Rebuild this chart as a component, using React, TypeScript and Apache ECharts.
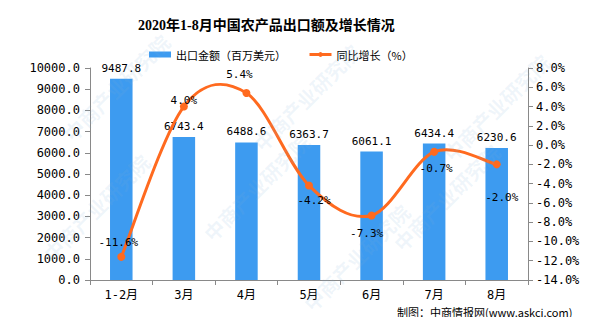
import React, { useEffect, useRef } from "react";
import * as echarts from "echarts";

const categories = ["1-2月", "3月", "4月", "5月", "6月", "7月", "8月"];
const exportValues = [9487.8, 6743.4, 6488.6, 6363.7, 6061.1, 6434.4, 6230.6];
const growthValues = [-11.6, 4.0, 5.4, -4.2, -7.3, -0.7, -2.0];

const FONT = "'DejaVu Sans Mono', 'Noto Sans CJK SC', monospace";
const ORANGE = "#FF6A1F";

export default function App() {
  const ref = useRef<HTMLDivElement>(null);
  useEffect(() => {
    const chart = echarts.init(ref.current!, null, { renderer: "svg" });
    const labelCfg: any[] = [
      { position: "top", offset: [-3, 0] },
      { position: "top", offset: [0, 8] },
      { position: "top", offset: [-7, -4] },
      { position: "bottom", offset: [5, 0] },
      { position: "bottom", offset: [-5, 4] },
      { position: "bottom", offset: [2, 2] },
      { position: "bottom", offset: [5, 19] },
    ];
    const watermarks: any[] = [];
    const wmPos = [
      [60, 130], [250, 140], [440, 150], [40, 250], [200, 230], [390, 240], [300, 300],
    ];
    wmPos.forEach(([x, y]) => {
      watermarks.push({
        type: "text",
        x,
        y,
        rotation: Math.PI / 4,
        silent: true,
        z: 100,
        style: {
          text: "中商产业研究院",
          fill: "rgba(130,175,215,0.13)",
          font: "bold 20px 'Noto Sans CJK SC'",
        },
      });
    });

    const renderCurve = (params: any, api: any) => {
      if (params.dataIndex !== 0) return null;
      const pts = growthValues.map((v, i) => api.coord([i, v]));
      let d = `M${pts[0][0]},${pts[0][1]}`;
      for (let i = 0; i < pts.length - 1; i++) {
        const p0 = pts[Math.max(0, i - 1)];
        const p1 = pts[i];
        const p2 = pts[i + 1];
        const p3 = pts[Math.min(pts.length - 1, i + 2)];
        const c1x = p1[0] + (p2[0] - p0[0]) / 6;
        const c1y = p1[1] + (p2[1] - p0[1]) / 6;
        const c2x = p2[0] - (p3[0] - p1[0]) / 6;
        const c2y = p2[1] - (p3[1] - p1[1]) / 6;
        d += ` C${c1x},${c1y} ${c2x},${c2y} ${p2[0]},${p2[1]}`;
      }
      return {
        type: "path",
        shape: { pathData: d },
        style: { fill: "none", stroke: ORANGE, lineWidth: 3 },
      };
    };

    chart.setOption({
      animation: false,
      backgroundColor: "#fff",
      title: {
        text: "2020年1-8月中国农产品出口额及增长情况",
        left: 133,
        top: 13,
        textStyle: {
          fontSize: 14,
          fontWeight: "bold",
          color: "#000",
          fontFamily: "'Liberation Serif', 'Noto Sans CJK SC', serif",
        },
      },
      legend: {
        left: 144,
        top: 44,
        itemWidth: 22,
        itemHeight: 6,
        itemGap: 22,
        textStyle: { fontSize: 11, color: "#000", fontFamily: "'Noto Sans CJK SC'" },
        data: [
          { name: "出口金额（百万美元）", icon: "rect" },
          { name: "同比增长（%）", lineStyle: { color: ORANGE, width: 3, opacity: 1 } },
        ],
      },
      grid: { left: 90, right: 77, top: 68, bottom: 45 },
      xAxis: {
        type: "category",
        data: categories,
        axisLine: { lineStyle: { color: "#898989" } },
        axisTick: { show: true, alignWithLabel: false, lineStyle: { color: "#898989" } },
        axisLabel: { color: "#000", fontSize: 12, margin: 9, fontFamily: FONT },
      },
      yAxis: [
        {
          type: "value",
          min: 0,
          max: 10000,
          interval: 1000,
          axisLine: { show: true, lineStyle: { color: "#898989" } },
          axisTick: { show: true, lineStyle: { color: "#898989" } },
          splitLine: { show: false },
          axisLabel: {
            color: "#000",
            fontSize: 12,
            fontFamily: FONT,
            margin: 10,
            formatter: (v: number) => v.toFixed(1),
          },
        },
        {
          type: "value",
          min: -14,
          max: 8,
          interval: 2,
          axisLine: { show: true, lineStyle: { color: "#898989" } },
          axisTick: { show: true, lineStyle: { color: "#898989" } },
          splitLine: { show: false },
          axisLabel: {
            color: "#000",
            fontSize: 12,
            fontFamily: FONT,
            margin: 8,
            formatter: (v: number) => v.toFixed(1) + "%",
          },
        },
      ],
      series: [
        {
          name: "出口金额（百万美元）",
          type: "bar",
          data: exportValues,
          barWidth: "36%",
          itemStyle: { color: "#3D9BF0" },
          label: {
            show: true,
            position: "top",
            color: "#000",
            fontSize: 11,
            fontFamily: FONT,
            formatter: (p: any) => p.value.toFixed(1),
          },
        },
        {
          name: "curve",
          type: "custom",
          yAxisIndex: 1,
          data: growthValues.map((v, i) => [i, v]),
          encode: { x: 0, y: 1 },
          renderItem: renderCurve,
          silent: true,
          z: 3,
        },
        {
          name: "同比增长（%）",
          type: "line",
          yAxisIndex: 1,
          symbol: "circle",
          symbolSize: 8,
          z: 4,
          data: growthValues.map((v, i) => ({
            value: v,
            label: { ...labelCfg[i] },
          })),
          lineStyle: { color: ORANGE, width: 3, opacity: 0 },
          itemStyle: { color: ORANGE },
          label: {
            show: true,
            color: "#000",
            fontSize: 11,
            fontFamily: FONT,
            formatter: (p: any) => p.value.toFixed(1) + "%",
          },
        },
      ],
      graphic: [
        {
          type: "rect",
          shape: { x: 0.5, y: 0.5, width: 604, height: 324 },
          style: { fill: "none", stroke: "#898989", lineWidth: 1 },
          silent: true,
        },
        {
          type: "text",
          left: 397,
          top: 306,
          style: {
            text: "制图：中商情报网(www.askci.com)",
            fill: "#000",
            font: "11px 'Noto Sans CJK SC'",
          },
        },
        ...watermarks,
      ],
    });
    return () => chart.dispose();
  }, []);
  return <div ref={ref} style={{ width: 605, height: 325, margin: -8 }} />;
}
